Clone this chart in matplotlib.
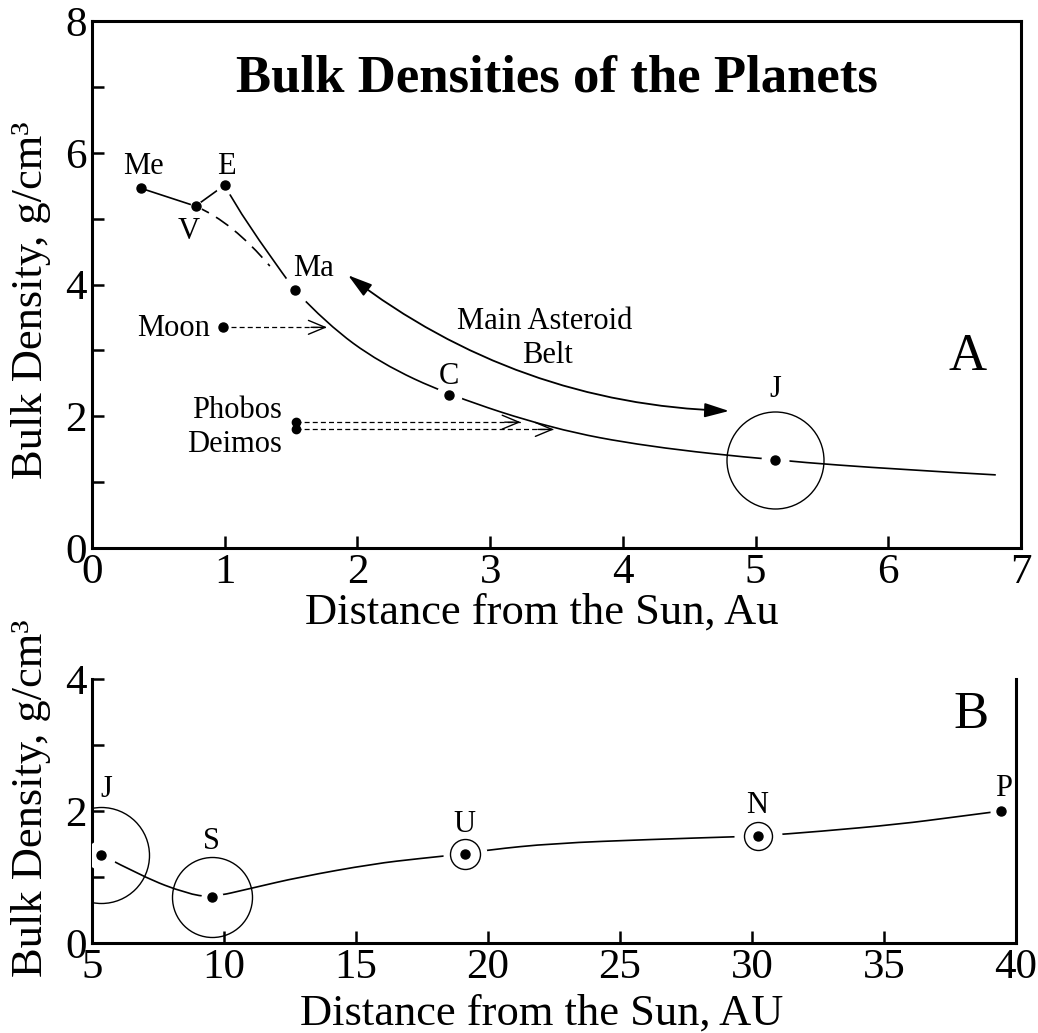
import numpy as np
import matplotlib
matplotlib.use("Agg")
import matplotlib.pyplot as plt
from matplotlib.path import Path
from matplotlib.patches import PathPatch

plt.rcParams['font.family'] = ['Liberation Serif', 'DejaVu Serif']

# ---- panel A: inner solar system ----
inner_names = ['Me', 'V', 'E', 'Ma', 'C', 'J']
inner_dist = [0.37, 0.78, 1.00, 1.53, 2.69, 5.15]
inner_dens = [5.46, 5.19, 5.51, 3.91, 2.32, 1.33]

moon_dist = 0.99
moon_dens = 3.35
moon_hit = 1.77          # where the moon arrow meets the trend curve

sat_names = ['Phobos', 'Deimos']
sat_dist = [1.535, 1.535]
sat_dens = [1.91, 1.80]
sat_hit = [3.23, 3.48]

# trend curves
trend_x = [1.53, 1.77, 2.17, 2.69, 3.47, 4.18, 5.15, 6.09, 6.81]
trend_y = [3.91, 3.40, 2.81, 2.32, 1.81, 1.54, 1.33, 1.19, 1.11]
earth_curve_x = [1.00, 1.19, 1.53]
earth_curve_y = [5.51, 4.88, 3.91]
venus_curve_x = [0.78, 1.06, 1.34]
venus_curve_y = [5.19, 4.84, 4.28]

belt_start = (1.93, 4.14)
belt_end = (4.80, 2.08)

# ---- panel B: outer solar system ----
outer_names = ['J', 'S', 'U', 'N', 'P']
outer_dist = [5.33, 9.53, 19.11, 30.21, 39.43]
outer_dens = [1.34, 0.69, 1.35, 1.62, 2.00]

outer_curve_x = [5.33, 6.94, 8.58, 9.53, 11.04, 12.87, 15.67, 17.41, 19.11, 19.99,
                 22.45, 26.24, 29.39, 30.21, 32.55, 35.57, 37.70, 39.43]
outer_curve_y = [1.34, 1.00, 0.75, 0.69, 0.83, 1.00, 1.20, 1.28, 1.35, 1.41,
                 1.51, 1.57, 1.61, 1.62, 1.69, 1.80, 1.91, 2.00]

# ---- styling (pixel sizes at 100 dpi -> points) ----
PX = 0.72
label_off_a = {'Me': (2, 14), 'V': (-7, -33), 'E': (2, 11), 'Ma': (18, 14), 'C': (0, 11), 'J': (0, 63)}
gap_a = {'Me': 0, 'V': 6, 'E': 10, 'Ma': 15, 'C': 13, 'J': 14}
ring_a = {'J': 48.5}
label_off_b = {'J': (6, 58), 'S': (0, 48), 'U': (0, 22), 'N': (0, 23), 'P': (3, 15)}
gap_b = {'J': 15, 'S': 11, 'U': 22, 'N': 24, 'P': 11}
ring_b = {'J': 48, 'S': 40, 'U': 15, 'N': 14}

tick_fs = 31
label_fs = 32
small_fs = 22
dot_ms = 6.5

fig = plt.figure(figsize=(10.38, 10.33), dpi=100)
axA = fig.add_axes([92 / 1038, 485 / 1033, 929 / 1038, 527 / 1033])
axB = fig.add_axes([92 / 1038, 90 / 1033, 924 / 1038, 264 / 1033])


def style_axes(ax):
    for s in ax.spines.values():
        s.set_linewidth(2.2)
    ax.tick_params(which='both', direction='in', length=8.6, width=1.8,
                   labelsize=tick_fs, pad=4)


def smooth_curve(ax, xs, ys, **kw):
    # quadratic bezier pieces through the traced points
    p = np.column_stack([xs, ys])
    n = len(p)
    if n == 3:
        ctrl = 2 * p[1] - (p[0] + p[2]) / 2
        verts = [p[0], ctrl, p[2]]
    else:
        verts = [p[0]]
        for i in range(1, n - 2):
            verts += [p[i], (p[i] + p[i + 1]) / 2]
        verts += [p[n - 2], p[n - 1]]
    codes = [Path.MOVETO] + [Path.CURVE3] * (len(verts) - 1)
    ax.add_patch(PathPatch(Path(verts, codes), fill=False, color='black', zorder=2, **kw))


def mark_planets(ax, names, xs, ys, gaps, rings, offs):
    for n, x, y in zip(names, xs, ys):
        if gaps.get(n, 0) > 0:
            ax.plot(x, y, 'o', ms=2 * gaps[n] * PX, mfc='white', mec='none', zorder=3)
        if n in rings:
            ax.plot(x, y, 'o', ms=2 * rings[n] * PX, mfc='none', mec='black', mew=1.0, zorder=4)
        ax.plot(x, y, 'o', ms=dot_ms, color='black', zorder=5)
        dx, dy = offs[n]
        ax.annotate(n, (x, y), xytext=(dx * PX, dy * PX), textcoords='offset points',
                    ha='center', va='baseline', fontsize=small_fs, zorder=6)


def dashed_arrow(ax, x0, x1, y):
    ax.plot([x0, x1], [y, y], color='black', lw=0.9, ls=(0, (4, 2.5)), zorder=2)
    ax.annotate('', xy=(x1, y), xytext=(x1 - 0.12, y),
                arrowprops=dict(arrowstyle='->,head_length=0.6,head_width=0.25',
                                lw=1.0, color='black', shrinkA=0, shrinkB=0,
                                mutation_scale=20), zorder=2)


# ---------------- panel A ----------------
style_axes(axA)
axA.plot(inner_dist[:3], inner_dens[:3], color='black', lw=1.2, zorder=2)
smooth_curve(axA, earth_curve_x, earth_curve_y, lw=1.2)
smooth_curve(axA, venus_curve_x, venus_curve_y, lw=1.2, ls=(0, (9, 5)))
smooth_curve(axA, trend_x, trend_y, lw=1.2)
mark_planets(axA, inner_names, inner_dist, inner_dens, gap_a, ring_a, label_off_a)

axA.plot(moon_dist, moon_dens, 'o', ms=dot_ms, color='black', zorder=5)
axA.annotate('Moon', (moon_dist, moon_dens), xytext=(-13 * PX, -9 * PX),
             textcoords='offset points', ha='right', va='baseline', fontsize=small_fs)
dashed_arrow(axA, moon_dist + 0.06, moon_hit, moon_dens)

for n, x, y, hit in zip(sat_names, sat_dist, sat_dens, sat_hit):
    axA.plot(x, y, 'o', ms=dot_ms - 0.5, color='black', zorder=5)
    dashed_arrow(axA, x, hit, y)
axA.annotate('Phobos', (sat_dist[0], sat_dens[0]), xytext=(-14 * PX, 4 * PX),
             textcoords='offset points', ha='right', va='baseline', fontsize=small_fs)
axA.annotate('Deimos', (sat_dist[1], sat_dens[1]), xytext=(-14 * PX, -23 * PX),
             textcoords='offset points', ha='right', va='baseline', fontsize=small_fs)

axA.annotate('', xy=belt_end, xytext=belt_start,
             arrowprops=dict(arrowstyle='<|-|>,head_length=0.75,head_width=0.22',
                             connectionstyle='arc3,rad=0.16', lw=1.3, color='black',
                             shrinkA=0, shrinkB=0, mutation_scale=20))
axA.text(3.41, 3.33, 'Main Asteroid', ha='center', va='baseline', fontsize=small_fs)
axA.text(3.43, 2.81, 'Belt', ha='center', va='baseline', fontsize=small_fs)

axA.text(0.5, 0.867, 'Bulk Densities of the Planets', transform=axA.transAxes,
         ha='center', va='baseline', fontsize=38, fontweight='bold')
axA.text(0.942, 0.338, 'A', transform=axA.transAxes, ha='center', va='baseline', fontsize=38)

axA.set_xlim(0, 7)
axA.set_ylim(0, 8)
axA.set_xticks(range(0, 8))
axA.set_yticks([0, 2, 4, 6, 8])
axA.set_yticks([1, 3, 5, 7], minor=True)

# ---------------- panel B ----------------
style_axes(axB)
axB.spines['top'].set_visible(False)
smooth_curve(axB, outer_curve_x, outer_curve_y, lw=1.2)
mark_planets(axB, outer_names, outer_dist, outer_dens, gap_b, ring_b, label_off_b)
axB.text(0.951, 0.814, 'B', transform=axB.transAxes, ha='center', va='baseline', fontsize=38)

axB.set_xlim(5, 40)
axB.set_ylim(0, 4)
axB.set_xticks(range(5, 41, 5))
axB.set_yticks([0, 2, 4])
axB.set_yticks([1, 3], minor=True)

# axis titles
fig.text(542 / 1038, 1 - 624 / 1033, 'Distance from the Sun, Au',
         ha='center', va='baseline', fontsize=label_fs)
fig.text(542 / 1038, 1 - 1025 / 1033, 'Distance from the Sun, AU',
         ha='center', va='baseline', fontsize=label_fs)
fig.text(31 / 1038, 1 - 300 / 1033, 'Bulk Density, g/cm³', rotation=90,
         ha='center', va='center', fontsize=label_fs)
fig.text(31 / 1038, 1 - 798 / 1033, 'Bulk Density, g/cm³', rotation=90,
         ha='center', va='center', fontsize=label_fs)

fig.savefig('out.png', dpi=100)
